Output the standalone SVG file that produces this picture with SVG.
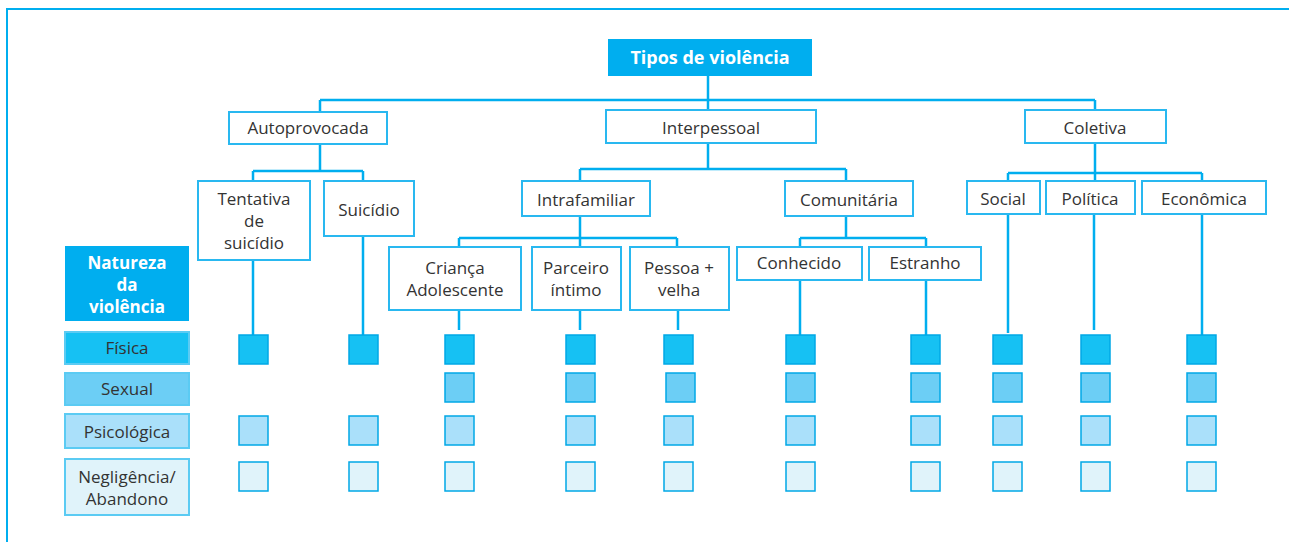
<svg xmlns="http://www.w3.org/2000/svg" width="1289" height="542" viewBox="0 0 1289 542">
<style>
.frame{fill:none;stroke:#00AEEF;stroke-width:2}
.box{fill:#fff;stroke:#29B8F0;stroke-width:2}
.hdr{fill:#00AEEF}
.t{font-family:"Open Sans","Noto Sans",sans-serif;font-size:17px;fill:#333;text-anchor:middle}
.b{font-family:"Open Sans","Noto Sans",sans-serif;font-size:17px;font-weight:bold;fill:#fff;text-anchor:middle}
.ti{font-size:18px}
.conn{fill:none;stroke:#00AEEF;stroke-width:2.5}
.lab{stroke:#5BCBF3;stroke-width:2}
.sq{stroke:#00A8E6;stroke-width:1.5}
.r1{fill:#16C1F3}.r2{fill:#6CCEF5}.r3{fill:#AAE0FA}.r4{fill:#E0F3FA}
</style>
<path class="frame" d="M7,542 V9 H1289"/>
<g id="connectors">
<path class="conn" d="M708,76 V100 M320,100 H1095 M320,100 V112 M708,100 V110 M1095,100 V110"/>
<path class="conn" d="M320,144 V171 M253,171 H363 M253,171 V181 M363,171 V181"/>
<path class="conn" d="M708,144 V169 M580,169 H846 M580,169 V181 M846,169 V181"/>
<path class="conn" d="M1095,143 V173 M1008,173 H1202 M1008,173 V181 M1095,173 V181 M1202,173 V181"/>
<path class="conn" d="M580,216 V238 M459,238 H677 M459,238 V247 M580,238 V247 M677,238 V247"/>
<path class="conn" d="M846,216 V238 M800,238 H926 M800,238 V247 M926,238 V247"/>
<path class="conn" d="M253,260 V335 M363,236 V335 M459,310 V330 M580,310 V330 M678,310 V330 M800,280 V335 M926,280 V335 M1008,214 V333 M1094,214 V330 M1202,214 V335"/>
</g>
<g id="tipos"><rect class="hdr" x="608" y="39" width="204" height="37"/><text class="b ti" x="710" y="64">Tipos de violência</text></g>
<g id="autoprovocada"><rect class="box" x="229" y="112" width="158" height="32"/><text class="t" x="308" y="134">Autoprovocada</text></g>
<g id="interpessoal"><rect class="box" x="606" y="110" width="210" height="33"/><text class="t" x="711" y="134">Interpessoal</text></g>
<g id="coletiva"><rect class="box" x="1025" y="110" width="141" height="33"/><text class="t" x="1095" y="134">Coletiva</text></g>
<g id="tentativa"><rect class="box" x="198" y="181" width="112" height="79"/><text class="t" x="254" y="205">Tentativa</text><text class="t" x="254" y="227">de</text><text class="t" x="254" y="249">suicídio</text></g>
<g id="suicidio"><rect class="box" x="324" y="181" width="90" height="55"/><text class="t" x="369" y="216">Suicídio</text></g>
<g id="intrafamiliar"><rect class="box" x="522" y="181" width="128" height="35"/><text class="t" x="586" y="206">Intrafamiliar</text></g>
<g id="comunitaria"><rect class="box" x="785" y="181" width="128" height="35"/><text class="t" x="849" y="206">Comunitária</text></g>
<g id="social"><rect class="box" x="967" y="181" width="73" height="33"/><text class="t" x="1003" y="205">Social</text></g>
<g id="politica"><rect class="box" x="1046" y="181" width="89" height="33"/><text class="t" x="1090" y="205">Política</text></g>
<g id="economica"><rect class="box" x="1142" y="181" width="124" height="33"/><text class="t" x="1204" y="205">Econômica</text></g>
<g id="crianca"><rect class="box" x="389" y="247" width="132" height="63"/><text class="t" x="455" y="274">Criança</text><text class="t" x="455" y="296">Adolescente</text></g>
<g id="parceiro"><rect class="box" x="532" y="247" width="89" height="63"/><text class="t" x="576" y="274">Parceiro</text><text class="t" x="576" y="296">íntimo</text></g>
<g id="pessoa"><rect class="box" x="630" y="247" width="99" height="63"/><text class="t" x="679" y="274">Pessoa +</text><text class="t" x="679" y="296">velha</text></g>
<g id="conhecido"><rect class="box" x="737" y="247" width="125" height="33"/><text class="t" x="799" y="269">Conhecido</text></g>
<g id="estranho"><rect class="box" x="869" y="247" width="112" height="33"/><text class="t" x="925" y="269">Estranho</text></g>
<g id="natureza"><rect class="hdr" x="65" y="246" width="124" height="75"/><text class="b" x="127" y="269">Natureza</text><text class="b" x="127" y="291">da</text><text class="b" x="127" y="313">violência</text></g>
<g id="fisica"><rect class="lab r1" x="65" y="332" width="124" height="32"/><text class="t" x="127" y="354">Física</text></g>
<g id="sexual"><rect class="lab r2" x="65" y="373" width="124" height="32"/><text class="t" x="127" y="395">Sexual</text></g>
<g id="psicologica"><rect class="lab r3" x="65" y="414" width="124" height="34"/><text class="t" x="127" y="438">Psicológica</text></g>
<g id="negligencia"><rect class="lab r4" x="65" y="459" width="124" height="56"/><text class="t" x="127" y="483">Negligência/</text><text class="t" x="127" y="505">Abandono</text></g>
<g id="squares">
<g class="sq r1"><rect x="239" y="335" width="29" height="29"/><rect x="349" y="335" width="29" height="29"/><rect x="445" y="335" width="29" height="29"/><rect x="566" y="335" width="29" height="29"/><rect x="664" y="335" width="29" height="29"/><rect x="786" y="335" width="29" height="29"/><rect x="911" y="335" width="29" height="29"/><rect x="993" y="335" width="29" height="29"/><rect x="1081" y="335" width="29" height="29"/><rect x="1187" y="335" width="29" height="29"/></g>
<g class="sq r2"><rect x="445" y="373" width="29" height="29"/><rect x="566" y="373" width="29" height="29"/><rect x="666" y="373" width="29" height="29"/><rect x="786" y="373" width="29" height="29"/><rect x="911" y="373" width="29" height="29"/><rect x="993" y="373" width="29" height="29"/><rect x="1081" y="373" width="29" height="29"/><rect x="1187" y="373" width="29" height="29"/></g>
<g class="sq r3"><rect x="239" y="416" width="29" height="29"/><rect x="349" y="416" width="29" height="29"/><rect x="445" y="416" width="29" height="29"/><rect x="566" y="416" width="29" height="29"/><rect x="664" y="416" width="29" height="29"/><rect x="786" y="416" width="29" height="29"/><rect x="911" y="416" width="29" height="29"/><rect x="993" y="416" width="29" height="29"/><rect x="1081" y="416" width="29" height="29"/><rect x="1187" y="416" width="29" height="29"/></g>
<g class="sq r4"><rect x="239" y="462" width="29" height="29"/><rect x="349" y="462" width="29" height="29"/><rect x="445" y="462" width="29" height="29"/><rect x="566" y="462" width="29" height="29"/><rect x="664" y="462" width="29" height="29"/><rect x="786" y="462" width="29" height="29"/><rect x="911" y="462" width="29" height="29"/><rect x="993" y="462" width="29" height="29"/><rect x="1081" y="462" width="29" height="29"/><rect x="1187" y="462" width="29" height="29"/></g>
</g>
</svg>
